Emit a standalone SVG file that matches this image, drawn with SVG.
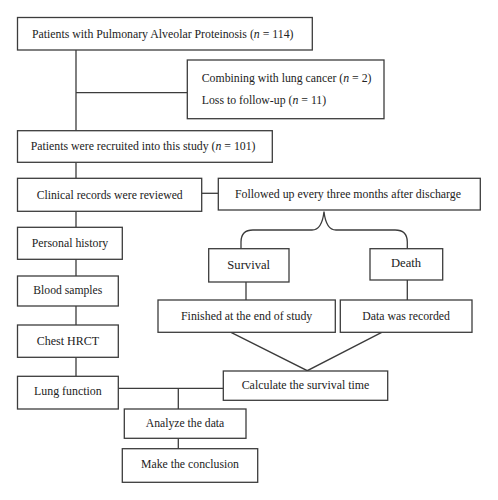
<svg xmlns="http://www.w3.org/2000/svg" width="498" height="500" viewBox="0 0 498 500">
<style>
rect.b{fill:#fff;stroke:#3c3c3c;stroke-width:1.3}
.c{fill:none;stroke:#3c3c3c;stroke-width:1.3}
text{font-family:"Liberation Serif","Times New Roman",serif;font-size:12.6px;fill:#222}
.m{text-anchor:middle}
.s{font-size:11.8px}
</style>
<rect width="498" height="500" fill="#fff"/>
<g id="connectors">
<path class="c" d="M76,50V130.7M76,92.7H187.3M76,162.3V178.3M76,211.3V227.3M76,259.3V276M76,306V325M76,357.3V376.3"/>
<path class="c" d="M201.7,193.3H218.3"/>
<path class="c" d="M241,248.7V242Q241,230 253,230H312Q322,230 324,211.5Q326,230 336,230H395Q407.3,230 407.3,242V248.7"/>
<path class="c" d="M246,282V300M407.3,280V300"/>
<path class="c" d="M231,332.3L307.3,370.7L381.7,332.3"/>
<path class="c" d="M118.3,388.3H223.3M178.3,388.3V409M178.3,438.3V448.7"/>
</g>
<g id="n1"><rect class="b" x="17.5" y="17.5" width="294.8" height="32.5"/>
<text class="s" x="32" y="37.8">Patients with Pulmonary Alveolar Proteinosis (<tspan font-style="italic">n</tspan> = 114)</text></g>
<g id="n2"><rect class="b" x="187.3" y="60" width="196.7" height="58.7"/>
<text class="s" x="201.7" y="82.3">Combining with lung cancer (<tspan font-style="italic">n</tspan> = 2)</text>
<text class="s" x="201.7" y="104.3">Loss to follow-up (<tspan font-style="italic">n</tspan> = 11)</text></g>
<g id="n3"><rect class="b" x="17.5" y="130.7" width="254.8" height="31.6"/>
<text class="s" x="30.7" y="149.8">Patients were recruited into this study (<tspan font-style="italic">n</tspan> = 101)</text></g>
<g id="n4"><rect class="b" x="17.5" y="178.3" width="184.2" height="33"/>
<text x="36.7" y="198.8" textLength="146" lengthAdjust="spacingAndGlyphs">Clinical records were reviewed</text></g>
<g id="n5"><rect class="b" x="218.3" y="178.3" width="262" height="31.7"/>
<text x="235" y="197.8" textLength="226" lengthAdjust="spacingAndGlyphs">Followed up every three months after discharge</text></g>
<g id="n6"><rect class="b" x="17.5" y="227.3" width="104.8" height="32"/>
<text x="31.7" y="246.8" textLength="76.6" lengthAdjust="spacingAndGlyphs">Personal history</text></g>
<g id="n7"><rect class="b" x="208.7" y="248.7" width="80.3" height="33.3"/>
<text class="m" x="248.7" y="268.8">Survival</text></g>
<g id="n8"><rect class="b" x="370" y="248.7" width="72.7" height="31.3"/>
<text class="m" x="406" y="267.3">Death</text></g>
<g id="n9"><rect class="b" x="17.5" y="276" width="100.8" height="30"/>
<text x="33.3" y="293.8" textLength="69" lengthAdjust="spacingAndGlyphs">Blood samples</text></g>
<g id="n10"><rect class="b" x="158" y="300" width="177.3" height="32.3"/>
<text x="181" y="319.8" textLength="131.3" lengthAdjust="spacingAndGlyphs">Finished at the end of study</text></g>
<g id="n11"><rect class="b" x="340.3" y="300" width="131.7" height="32.3"/>
<text x="362.3" y="319.8" textLength="87.7" lengthAdjust="spacingAndGlyphs">Data was recorded</text></g>
<g id="n12"><rect class="b" x="17.5" y="325" width="100.8" height="32.3"/>
<text x="36.7" y="344.8" textLength="62.3" lengthAdjust="spacingAndGlyphs">Chest HRCT</text></g>
<g id="n13"><rect class="b" x="223.3" y="371" width="164.4" height="29.3"/>
<text x="241.7" y="388.8" textLength="127.6" lengthAdjust="spacingAndGlyphs">Calculate the survival time</text></g>
<g id="n14"><rect class="b" x="17.5" y="376.3" width="100.8" height="32.7"/>
<text x="34" y="394.8" textLength="67.7" lengthAdjust="spacingAndGlyphs">Lung function</text></g>
<g id="n15"><rect class="b" x="124.3" y="409" width="121.7" height="29.3"/>
<text x="145.7" y="426.8" textLength="78.6" lengthAdjust="spacingAndGlyphs">Analyze the data</text></g>
<g id="n16"><rect class="b" x="122.3" y="448.7" width="135.4" height="33.6"/>
<text x="141" y="468.3" textLength="98" lengthAdjust="spacingAndGlyphs">Make the conclusion</text></g>
</svg>
